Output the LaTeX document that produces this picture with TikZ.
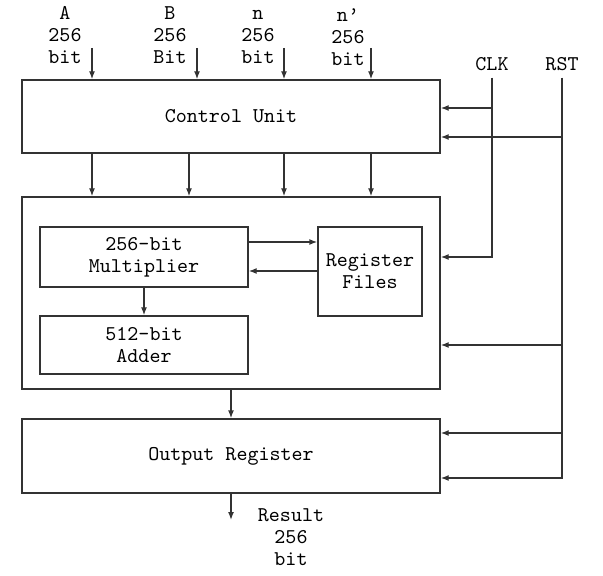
\documentclass[tikz,border=0pt]{standalone}
\usepackage{tikz}
\usetikzlibrary{arrows.meta}

\tikzset{
  unit/.style={draw=black!80, line width=0.7pt, align=center, inner sep=0pt,
    font=\ttfamily\fontsize{10.5}{11}\selectfont},
  lbl/.style={align=center, font=\ttfamily\fontsize{10.5}{11}\selectfont},
  wire/.style={draw=black!80, line width=0.7pt},
  arr/.style={wire, -{Latex[length=4pt,width=3pt]}}
}

\begin{document}
\begin{tikzpicture}[x=0.5pt, y=-0.5pt]
    \useasboundingbox (0,0) rectangle (603,576);

    % blocks
    \node [unit, minimum width=209pt, minimum height=36.5pt] (ctrl) at (231,116.5) {Control Unit};
    \node [unit, minimum width=209pt, minimum height=96pt] (core) at (231,293) {};
    \node [unit, minimum width=104pt, minimum height=30pt] (mult) at (144,257) {256-bit\\Multiplier};
    \node [unit, minimum width=52pt, minimum height=44.5pt] (regs) at (370,271.5) {Register\\Files};
    \node [unit, minimum width=104pt, minimum height=29pt] (adder) at (144,345) {512-bit\\Adder};
    \node [unit, minimum width=209pt, minimum height=37pt] (outreg) at (231,456) {Output Register};

    % operands
    \node [lbl] (opA) at ( 65,35) {A\\256\\bit};
    \node [lbl] (opB) at (170,35) {B\\256\\Bit};
    \node [lbl] (opN) at (258,37) {n\\256\\bit};
    \node [lbl] (opNp) at (348,37) {n’\\256\\bit};
    \foreach \name/\x in {A/92, B/197, N/284, Np/371} {
      \coordinate (top\name) at (\x,48);
      \draw [arr] (top\name) -- (top\name |- ctrl.north);
    }

    % control unit to core
    \foreach \x in {92, 189, 284, 371} {
      \draw [arr] (ctrl.south -| \x,0) -- (core.north -| \x,0);
    }

    % inside the core
    \draw [arr] (mult.east |- 0,242) -- (regs.west |- 0,242);
    \draw [arr] (regs.west |- 0,271) -- (mult.east |- 0,271);
    \draw [arr] (mult.south) -- (adder.north);

    % output
    \draw [arr] (core.south) -- (outreg.north);
    \coordinate (res) at (231,520);
    \draw [arr] (outreg.south) -- (res);
    \node [lbl] (result) at (291,537) {Result\\256\\bit};

    % clock and reset
    \node [lbl] (clk) at (492,64) {CLK};
    \node [lbl] (rst) at (562,64) {RST};
    \draw [arr] (clk.south) |- (core.east |- 0,257);
    \draw [arr] (clk.south |- 0,108) -- (ctrl.east |- 0,108);
    \draw [arr] (rst.south) |- (outreg.east |- 0,478);
    \draw [arr] (rst.south |- 0,137) -- (ctrl.east |- 0,137);
    \draw [arr] (rst.south |- 0,345) -- (core.east |- 0,345);
    \draw [arr] (rst.south |- 0,433) -- (outreg.east |- 0,433);
\end{tikzpicture}
\end{document}
